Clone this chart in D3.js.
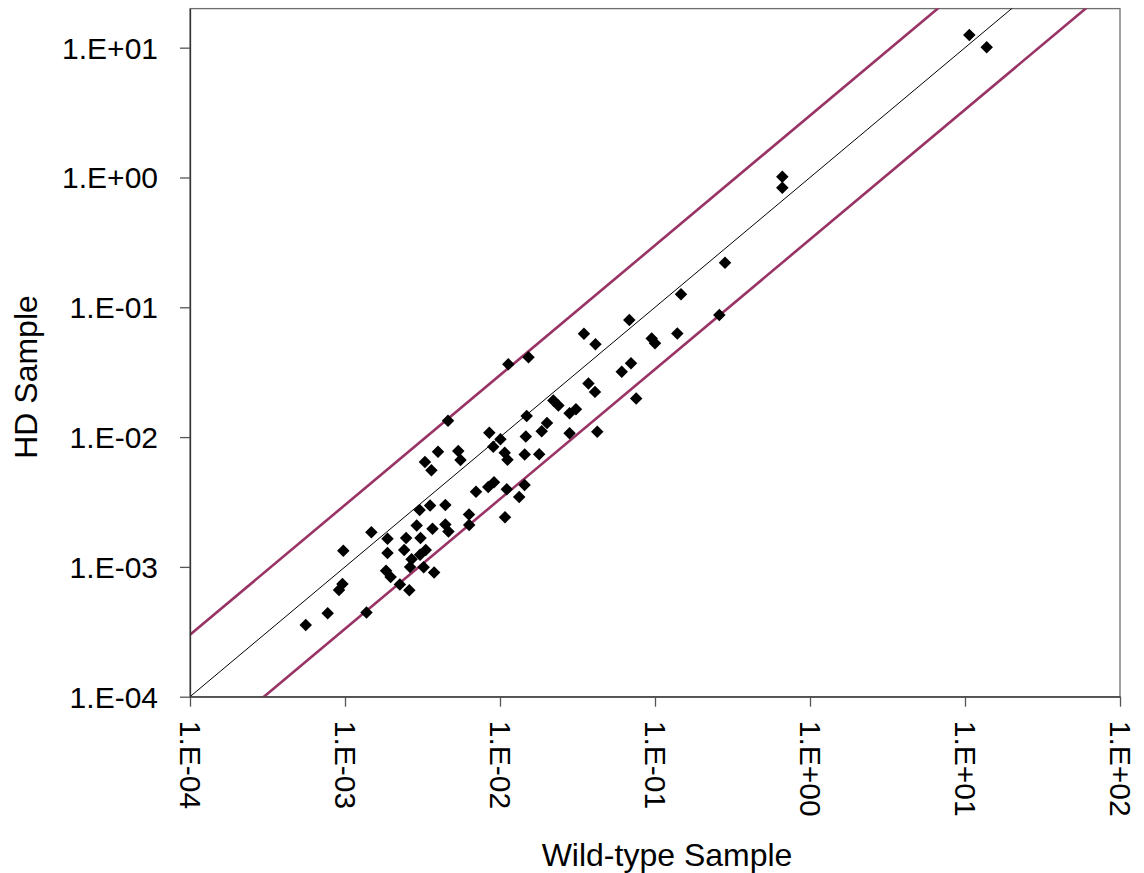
<!DOCTYPE html>
<html>
<head>
<meta charset="utf-8">
<script src="https://cdn.jsdelivr.net/npm/d3@7"></script>
<style>
  html, body { margin: 0; padding: 0; background: #fff; }
  svg { display: block; }
  text { font-family: "Liberation Sans", Arial, sans-serif; fill: #000; }
</style>
</head>
<body>
<svg id="chart" width="1144" height="873"></svg>
<script>
// Expression in wild-type vs HD samples (log-log scatter)
const wildType = [
  5.58e-4, 7.73e-4, 9.15e-4, 9.63e-4, 9.75e-4, 1.376e-3, 1.48e-3, 1.88e-3, 1.88e-3, 1.84e-3,
  1.97e-3, 2.26e-3, 2.60e-3, 2.48e-3, 2.41e-3, 2.90e-3, 3.03e-3, 3.54e-3, 3.07e-3, 3.67e-3,
  2.69e-3, 2.63e-3, 3.05e-3, 3.32e-3, 3.22e-3, 3.76e-3, 4.44e-3, 4.44e-3, 4.65e-3, 6.31e-3,
  6.33e-3, 4.62e-3, 3.98e-3, 3.28e-3, 3.61e-3, 5.38e-3, 5.56e-3, 7.00e-3, 8.40e-3, 9.15e-3,
  1.106e-2, 1.441e-2, 1.330e-2, 1.077e-2, 8.53e-3, 1.007e-2, 9.05e-3, 1.072e-2, 1.118e-2, 1.487e-2,
  1.467e-2, 1.443e-2, 1.790e-2, 1.858e-2, 2.01e-2, 1.131e-2, 1.527e-2, 2.21e-2, 2.38e-2, 2.81e-2,
  3.09e-2, 2.81e-2, 4.24e-2, 3.48e-2, 4.13e-2, 3.72e-2, 4.10e-2, 6.10e-2, 7.00e-2, 7.56e-2,
  6.83e-2, 9.52e-2, 0.100, 0.1393, 0.1471, 0.260, 0.283, 0.663, 0.663, 10.66,
  13.80
];
const hdSample = [
  3.56e-4, 4.39e-4, 6.64e-4, 7.38e-4, 1.333e-3, 4.45e-4, 1.85e-3, 1.65e-3, 1.28e-3, 9.33e-4,
  8.36e-4, 7.32e-4, 6.60e-4, 1.67e-3, 1.35e-3, 2.08e-3, 2.74e-3, 2.97e-3, 1.67e-3, 1.97e-3,
  1.145e-3, 1.00e-3, 1.24e-3, 1.35e-3, 9.95e-4, 9.05e-4, 3.00e-3, 2.12e-3, 1.87e-3, 2.53e-3,
  2.10e-3, 1.335e-2, 7.72e-3, 6.43e-3, 5.56e-3, 7.81e-3, 6.66e-3, 3.79e-3, 4.13e-3, 4.48e-3,
  3.97e-3, 4.28e-3, 3.46e-3, 2.41e-3, 1.081e-2, 9.63e-3, 8.43e-3, 7.57e-3, 6.69e-3, 1.454e-2,
  1.011e-2, 7.34e-3, 7.37e-3, 1.110e-2, 1.284e-2, 3.64e-2, 4.12e-2, 1.914e-2, 1.752e-2, 1.525e-2,
  1.641e-2, 1.070e-2, 1.099e-2, 6.26e-2, 5.19e-2, 2.59e-2, 2.23e-2, 3.19e-2, 3.70e-2, 1.98e-2,
  7.98e-2, 5.75e-2, 5.28e-2, 6.28e-2, 0.1259, 8.73e-2, 0.2206, 1.014, 0.834, 12.53,
  10.07
];

// Reference lines: y = ratio * x (equality and 3-fold bounds)
const foldRatios = [3, 1 / 3];
const identityRatio = 1;

const xTicks = [1e-4, 1e-3, 1e-2, 1e-1, 1e0, 1e1, 1e2];
const yTicks = [1e-4, 1e-3, 1e-2, 1e-1, 1e0, 1e1];
const xDomain = [1e-4, 100];
const yDomain = [1e-4, 20];

const xTitle = "Wild-type Sample";
const yTitle = "HD Sample";

// ---- layout ----
const plot = { left: 190, right: 1120, top: 8.6, bottom: 696.7 };

const x = d3.scaleLog().domain(xDomain).range([plot.left, plot.right]);
const y = d3.scaleLog().domain(yDomain).range([plot.bottom, plot.top]);

const fmt = v => {
  const e = Math.round(Math.log10(v));
  const s = e < 0 ? "-" : "+";
  return "1.E" + s + String(Math.abs(e)).padStart(2, "0");
};

const svg = d3.select("#chart");

svg.append("defs").append("clipPath").attr("id", "plotClip")
  .append("rect")
  .attr("x", plot.left).attr("y", plot.top)
  .attr("width", plot.right - plot.left).attr("height", plot.bottom - plot.top);

// plot frame
svg.append("rect")
  .attr("x", plot.left).attr("y", plot.top)
  .attr("width", plot.right - plot.left).attr("height", plot.bottom - plot.top)
  .attr("fill", "#fff").attr("stroke", "#6e6e6e").attr("stroke-width", 1.3);

// reference lines
const lineGen = d3.line().x(d => x(d[0])).y(d => y(d[1]));
const lines = svg.append("g").attr("clip-path", "url(#plotClip)");

foldRatios.forEach(r => {
  lines.append("path")
    .datum(xDomain.map(v => [v, v * r]))
    .attr("d", lineGen)
    .attr("fill", "none")
    .attr("stroke", "#993366")
    .attr("stroke-width", 2.6);
});

lines.append("path")
  .datum(xDomain.map(v => [v, v * identityRatio]))
  .attr("d", lineGen)
  .attr("fill", "none")
  .attr("stroke", "#000")
  .attr("stroke-width", 1);

// data points: black diamonds
const diamond = d3.symbol().type(d3.symbolSquare).size(78);
svg.append("g")
  .selectAll("path")
  .data(wildType.map((v, i) => [v, hdSample[i]]))
  .join("path")
  .attr("d", diamond)
  .attr("transform", d => `translate(${x(d[0])},${y(d[1])}) rotate(45)`)
  .attr("fill", "#000");

// axes
const xAxis = svg.append("g")
  .attr("transform", `translate(0,${plot.bottom})`)
  .call(d3.axisBottom(x).tickValues(xTicks).tickFormat(fmt).tickSize(10).tickSizeOuter(0));
xAxis.select(".domain").attr("stroke", "#333").attr("stroke-width", 1.3);
xAxis.selectAll(".tick line").attr("stroke", "#555").attr("stroke-width", 1.3);
xAxis.selectAll(".tick text")
  .attr("font-size", 30)
  .attr("font-family", "'Liberation Sans', Arial, sans-serif")
  .attr("fill", "#000")
  .attr("text-anchor", "start")
  .attr("x", 0).attr("y", 0).attr("dy", "0.35em")
  .attr("transform", "translate(0,24) rotate(90)");

const yAxis = svg.append("g")
  .attr("transform", `translate(${plot.left},0)`)
  .call(d3.axisLeft(y).tickValues(yTicks).tickFormat(fmt).tickSize(10).tickSizeOuter(0));
yAxis.select(".domain").attr("stroke", "#333").attr("stroke-width", 1.3);
yAxis.selectAll(".tick line").attr("stroke", "#555").attr("stroke-width", 1.3);
yAxis.selectAll(".tick text")
  .attr("font-size", 30)
  .attr("font-family", "'Liberation Sans', Arial, sans-serif")
  .attr("fill", "#000")
  .attr("x", -32)
  .attr("dy", "0.35em");

// axis titles
svg.append("text")
  .attr("x", 667).attr("y", 866)
  .attr("text-anchor", "middle")
  .attr("font-size", 32)
  .text(xTitle);

svg.append("text")
  .attr("transform", "translate(36.5,377) rotate(-90)")
  .attr("text-anchor", "middle")
  .attr("font-size", 32)
  .text(yTitle);
</script>
</body>
</html>
